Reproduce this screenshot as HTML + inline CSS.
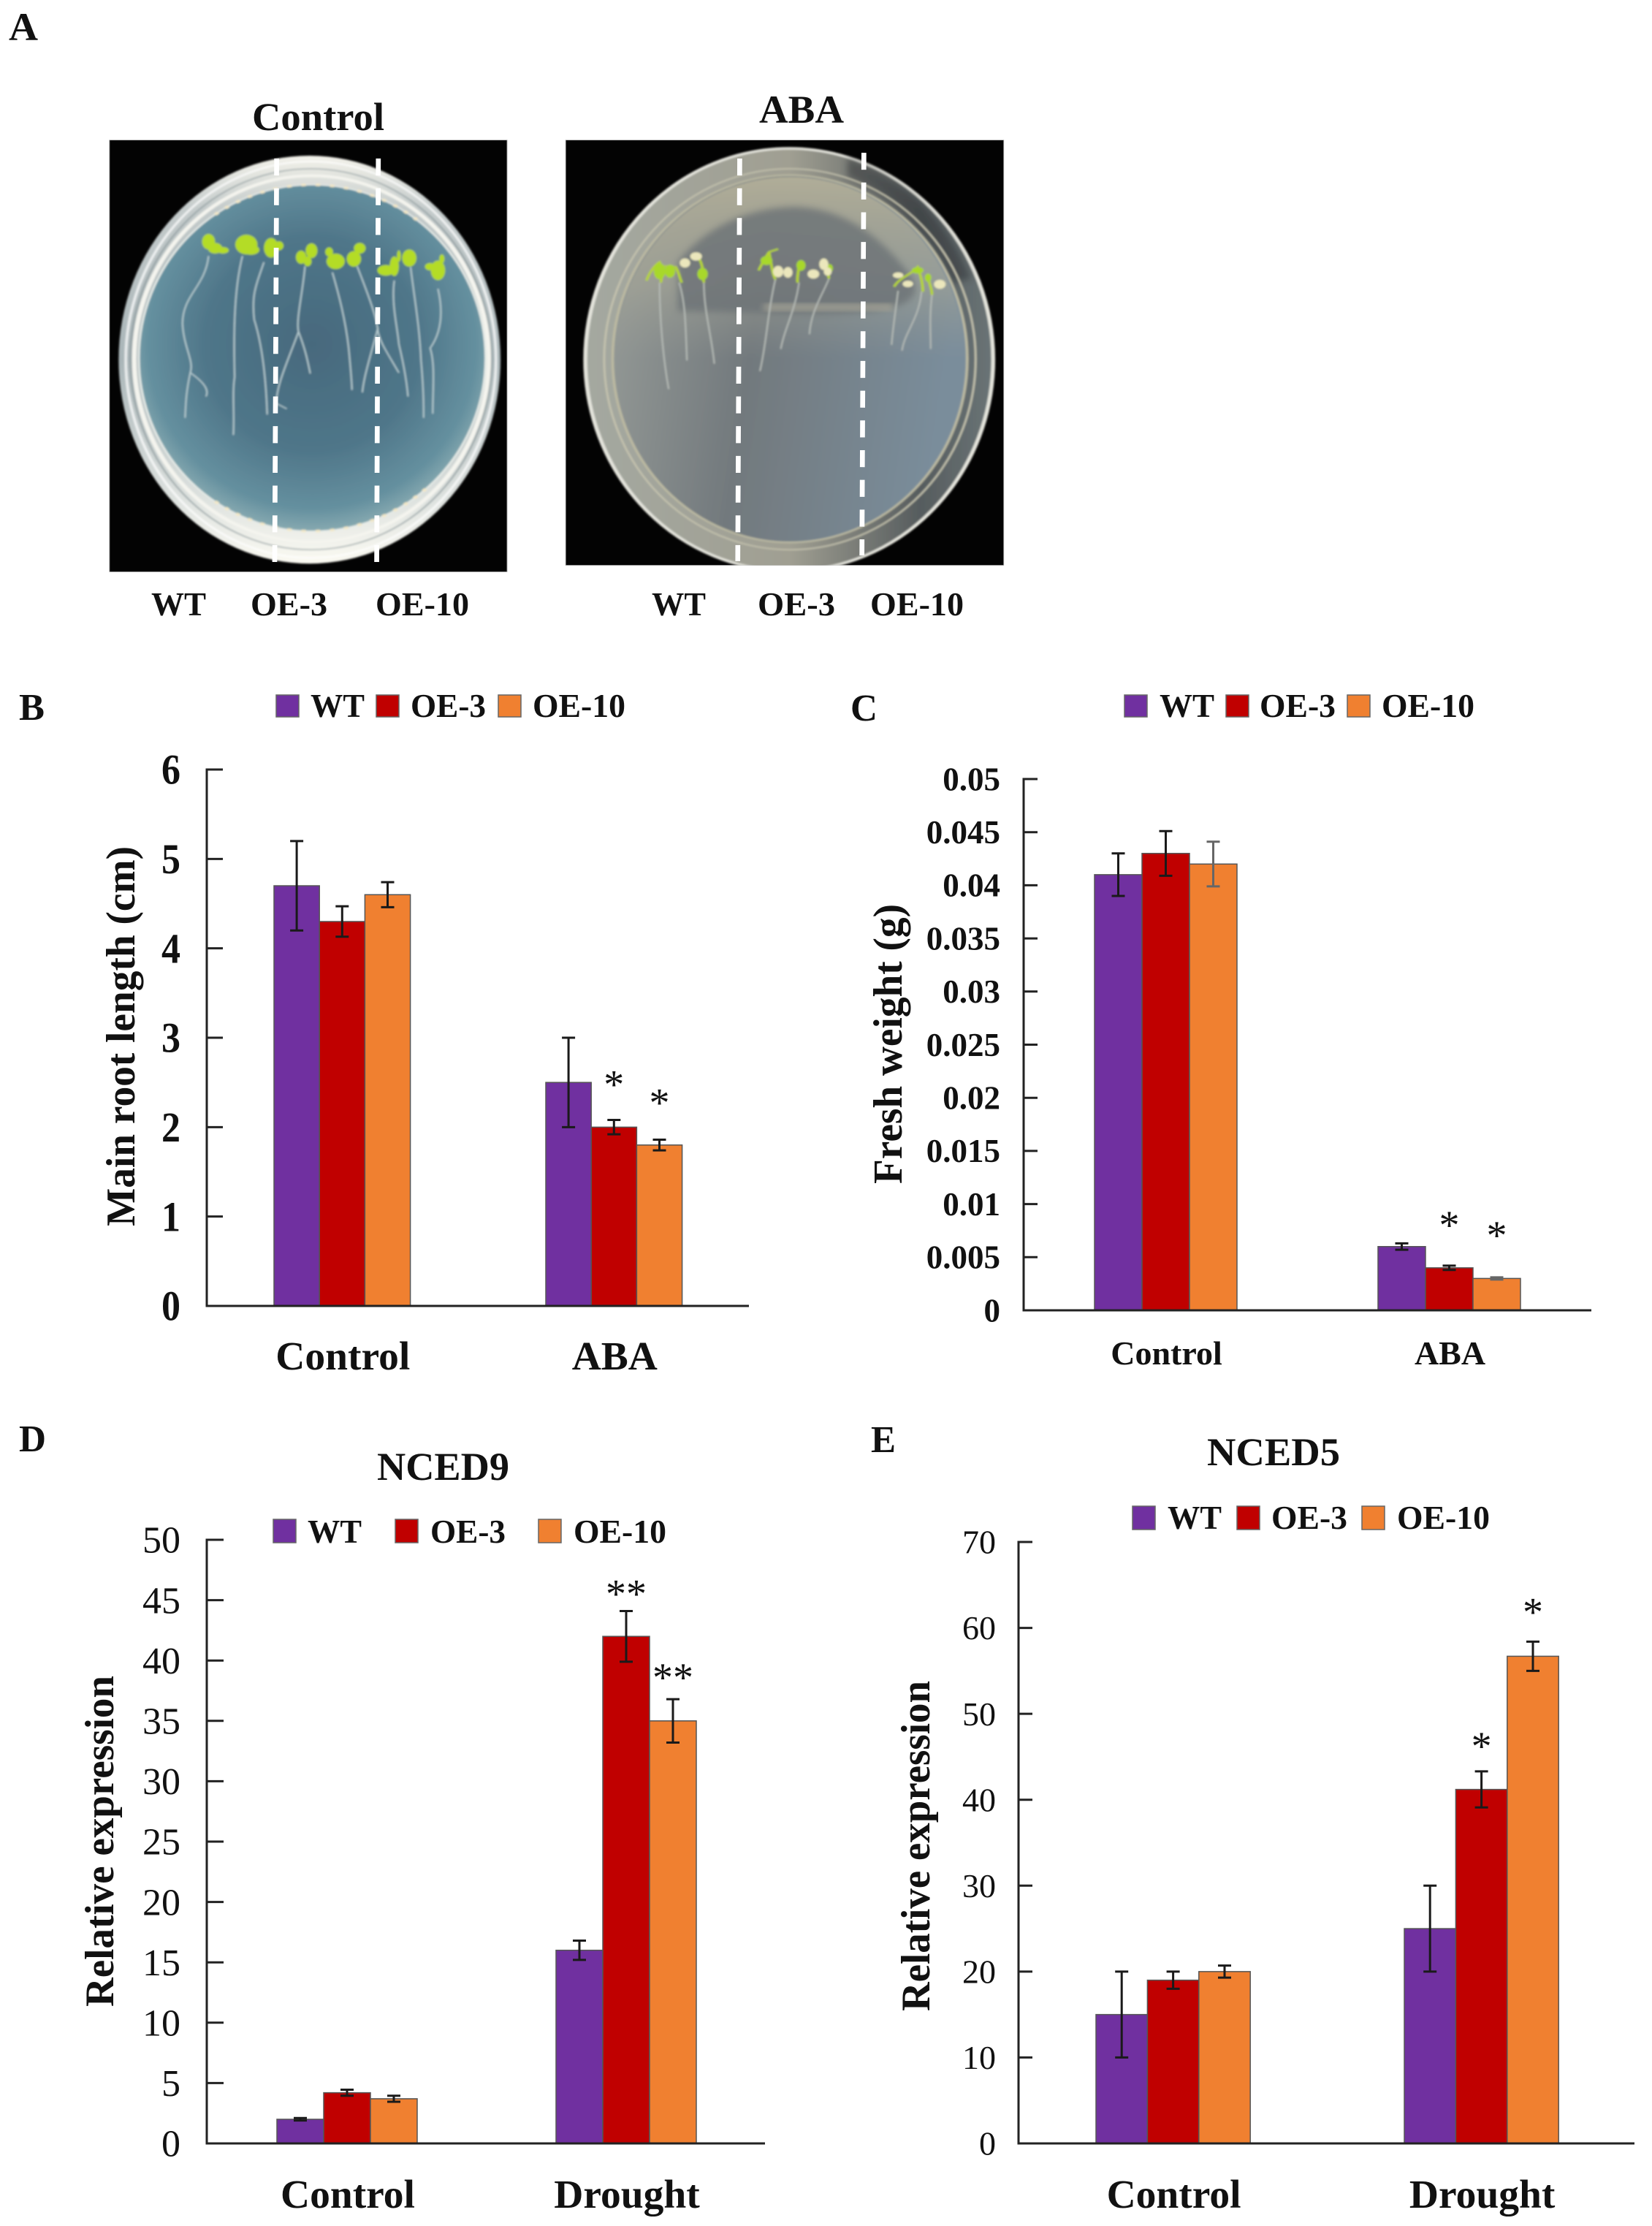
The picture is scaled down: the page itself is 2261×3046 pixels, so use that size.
<!DOCTYPE html>
<html lang="en">
<head>
<meta charset="utf-8">
<title>Root length, fresh weight and NCED expression</title>
<style>
html,body{margin:0;padding:0;background:#fff;}
svg{display:block;}
text{font-family:"Liberation Serif",serif;fill:#111;}
.b{font-weight:bold;}
</style>
</head>
<body>
<svg id="figure" xmlns="http://www.w3.org/2000/svg" width="2261" height="3046" viewBox="0 0 2261 3046">
<defs>
<radialGradient id="agar1" cx="50%" cy="46%" r="56%"><stop offset="0" stop-color="#47697d"/><stop offset=".55" stop-color="#4f7689"/><stop offset=".85" stop-color="#65909f"/><stop offset="1" stop-color="#92b2b6"/></radialGradient>
<linearGradient id="rim1" x1="0" y1="0" x2="0" y2="1"><stop offset="0" stop-color="#f3f2ea"/><stop offset=".13" stop-color="#c4cbcb"/><stop offset=".5" stop-color="#a9b5b8"/><stop offset=".85" stop-color="#dfe3e0"/><stop offset="1" stop-color="#fbfaf2"/></linearGradient>
<linearGradient id="agar2" x1="0" y1="0" x2="1" y2=".15"><stop offset="0" stop-color="#979c98"/><stop offset=".45" stop-color="#72797d"/><stop offset="1" stop-color="#7a8d9b"/></linearGradient>
<linearGradient id="agar2top" x1="0" y1="0" x2="0" y2="1"><stop offset="0" stop-color="#b0ad98"/><stop offset=".3" stop-color="#a8a898" stop-opacity=".55"/><stop offset=".5" stop-color="#9a9c94" stop-opacity="0"/></linearGradient>
<linearGradient id="rim2" x1="0" y1="0" x2="1" y2="0"><stop offset="0" stop-color="#a4a8a0"/><stop offset=".5" stop-color="#a09f92"/><stop offset=".82" stop-color="#565c5e"/><stop offset="1" stop-color="#6a7476"/></linearGradient>
<clipPath id="clip-photo2"><rect x="868" y="342" width="672" height="1038"/></clipPath>
<clipPath id="clip-photo1"><rect x="168" y="342" width="610" height="1054"/></clipPath>
<filter id="soft" x="-5%" y="-5%" width="110%" height="110%"><feGaussianBlur stdDeviation="1.6 2.6"/></filter>
<filter id="softer" x="-20%" y="-20%" width="140%" height="140%"><feGaussianBlur stdDeviation="5 8"/></filter>
</defs>
<rect width="2261" height="3046" fill="#fff"/>

<!-- Panel A: coordinates below are in a stretched photo space -->
<text class="b" x="12" y="55" font-size="54" textLength="40" lengthAdjust="spacingAndGlyphs">A</text>
<text class="b" x="345" y="178" font-size="54" textLength="181" lengthAdjust="spacingAndGlyphs">Control</text>
<text class="b" x="1039" y="168" font-size="54" textLength="116" lengthAdjust="spacingAndGlyphs">ABA</text>

<g transform="scale(.892,.5605)">
  <g>
    <rect x="168" y="342" width="610" height="1054" fill="#030303" stroke="#999" stroke-width="1"/>
    <g clip-path="url(#clip-photo1)"><g filter="url(#soft)">
      <ellipse cx="475" cy="878" rx="293" ry="498" fill="url(#rim1)"/>
      <ellipse cx="477" cy="878" rx="284" ry="484" fill="none" stroke="#fff" stroke-width="4" opacity=".75"/>
      <ellipse cx="477" cy="877" rx="277" ry="465" fill="none" stroke="#8d9a9c" stroke-width="3" opacity=".7"/>
      <ellipse cx="478" cy="876" rx="272" ry="447" fill="none" stroke="#f4f4ee" stroke-width="7"/>
      <ellipse cx="479" cy="874" rx="266" ry="423" fill="url(#agar1)" stroke="#e7ece8" stroke-width="3"/>
      <path d="M330 524A266 423 0 0 1 640 537" fill="none" stroke="#f3e8c8" stroke-width="6" stroke-dasharray="7 15"/>
      <path d="M330 1224A266 423 0 0 0 660 1184" fill="none" stroke="#f3e8c8" stroke-width="6" stroke-dasharray="7 15"/>
      <g fill="none" stroke="#b8ccd0" stroke-width="2.2">
        <path d="M320 625C315 700 280 720 280 790C282 850 298 880 292 910C310 930 322 950 316 968M292 910C285 960 285 990 284 1020"/>
        <path d="M372 625C360 700 358 800 360 920C356 960 360 1010 358 1062"/>
        <path d="M405 640C392 700 386 720 390 780C402 840 408 920 410 1012"/>
        <path d="M468 650C464 720 454 780 458 810C468 850 472 880 476 912M458 810C442 880 424 940 424 985L440 998"/>
        <path d="M510 665C520 720 530 780 535 850C538 900 540 940 540 952"/>
        <path d="M548 650C560 700 578 770 580 810C585 840 590 850 612 910M580 800C570 860 558 920 556 958"/>
        <path d="M605 685C600 740 610 800 612 840C618 880 624 930 626 968"/>
        <path d="M630 652C636 730 644 800 646 880C650 950 650 990 650 1020"/>
        <path d="M672 705C680 760 678 810 660 850C668 890 664 950 664 1010"/>
      </g>
      <g fill="#b4dc26">
        <ellipse cx="320" cy="590" rx="10" ry="19"/><ellipse cx="330" cy="606" rx="11" ry="13"/><ellipse cx="342" cy="611" rx="9" ry="8"/>
        <ellipse cx="378" cy="597" rx="17" ry="24"/><ellipse cx="385" cy="610" rx="13" ry="12"/>
        <ellipse cx="416" cy="605" rx="11" ry="24"/><ellipse cx="428" cy="600" rx="7" ry="11"/>
        <ellipse cx="462" cy="628" rx="8" ry="16"/><ellipse cx="478" cy="612" rx="9" ry="18"/><ellipse cx="472" cy="638" rx="6" ry="12"/>
        <ellipse cx="515" cy="638" rx="14" ry="19"/><ellipse cx="505" cy="615" rx="6" ry="11"/>
        <ellipse cx="543" cy="632" rx="11" ry="19"/><ellipse cx="552" cy="606" rx="9" ry="13"/>
        <ellipse cx="592" cy="660" rx="13" ry="13"/><ellipse cx="605" cy="650" rx="7" ry="24"/><ellipse cx="612" cy="625" rx="3" ry="14"/>
        <ellipse cx="628" cy="630" rx="11" ry="21"/>
        <ellipse cx="672" cy="660" rx="11" ry="24"/><ellipse cx="660" cy="651" rx="8" ry="9"/><ellipse cx="678" cy="632" rx="4" ry="11"/>
      </g>
    </g></g>
    <line x1="424.5" y1="387" x2="421.5" y2="1372" stroke="#fff" stroke-width="7.5" stroke-dasharray="41.4 31.2"/>
    <line x1="580.5" y1="387" x2="578" y2="1372" stroke="#fff" stroke-width="7.5" stroke-dasharray="41.4 31.2"/>
  </g>
  <g>
    <rect x="868" y="342" width="672" height="1038" fill="#030303" stroke="#999" stroke-width="1"/>
    <g clip-path="url(#clip-photo2)"><g filter="url(#soft)">
      <ellipse cx="1211" cy="878" rx="313" ry="516" fill="url(#rim2)" stroke="#e4e4dc" stroke-width="6"/>
      <path d="M1300 385A313 516 0 0 1 1490 680L1462 690A285 470 0 0 0 1300 432Z" fill="#2e3234" opacity=".5" filter="url(#softer)"/>
      <ellipse cx="1212" cy="877" rx="285" ry="465" fill="none" stroke="#c4c2ae" stroke-width="3"/>
      <ellipse cx="1212" cy="876" rx="272" ry="448" fill="url(#agar2)" stroke="#bbb9a2" stroke-width="4"/>
      <ellipse cx="1212" cy="876" rx="268" ry="444" fill="url(#agar2top)"/>
      <path d="M1040 640C1080 560 1140 510 1215 505C1290 505 1350 570 1400 680C1440 800 1200 760 1040 760Z" fill="#6c7276" opacity=".8" filter="url(#softer)"/>
      <rect x="1172" y="742" width="198" height="16" fill="#aca99a" opacity=".85" filter="url(#softer)"/>
      <g fill="none" stroke="#b8bdb8" stroke-width="2.2">
        <path d="M1012 690C1012 780 1018 880 1026 950"/>
        <path d="M1042 690C1052 740 1052 800 1054 880"/>
        <path d="M1080 690C1080 760 1092 820 1096 888"/>
        <path d="M1190 680C1178 760 1176 840 1166 906"/>
        <path d="M1226 690C1220 760 1204 800 1198 852"/>
        <path d="M1272 680C1262 720 1244 760 1242 816"/>
        <path d="M1378 710C1374 760 1370 800 1368 842"/>
        <path d="M1414 712C1410 780 1388 810 1384 856"/>
        <path d="M1430 720C1426 770 1428 810 1428 852"/>
      </g>
      <g fill="none" stroke="#b6d52e" stroke-width="4">
        <path d="M992 685C996 665 1006 645 1012 640C1015 660 1016 675 1014 690M1012 650H1034M1036 650C1042 665 1042 675 1046 690"/>
        <path d="M1072 630C1080 650 1078 670 1080 690"/>
        <path d="M1164 660C1170 640 1176 625 1180 615C1184 650 1186 675 1190 682M1180 615L1194 608"/>
        <path d="M1226 640C1226 660 1222 680 1224 690"/>
        <path d="M1264 635C1272 655 1270 670 1272 680"/>
        <path d="M1372 700C1378 680 1400 668 1408 652C1412 670 1416 690 1416 712M1424 680C1428 700 1430 710 1430 720"/>
      </g>
      <g fill="#a8d82a">
        <ellipse cx="1012" cy="662" rx="9" ry="20"/><ellipse cx="1028" cy="662" rx="8" ry="16"/>
        <ellipse cx="1078" cy="669" rx="8" ry="15"/><ellipse cx="1176" cy="636" rx="9" ry="11"/>
        <ellipse cx="1229" cy="648" rx="7" ry="13"/><ellipse cx="1273" cy="655" rx="5" ry="10"/>
        <ellipse cx="1408" cy="660" rx="9" ry="8"/><ellipse cx="1424" cy="678" rx="5" ry="10"/>
      </g>
      <g fill="#ebe7bc">
        <ellipse cx="1051" cy="642" rx="8" ry="11"/><ellipse cx="1068" cy="626" rx="9" ry="10"/>
        <ellipse cx="1194" cy="663" rx="8" ry="14"/><ellipse cx="1209" cy="665" rx="7" ry="13"/>
        <ellipse cx="1248" cy="669" rx="9" ry="11"/><ellipse cx="1264" cy="645" rx="7" ry="14"/><ellipse cx="1270" cy="663" rx="6" ry="10"/>
        <ellipse cx="1378" cy="672" rx="8" ry="7"/><ellipse cx="1393" cy="693" rx="8" ry="8"/><ellipse cx="1442" cy="694" rx="9" ry="11"/>
      </g>
    </g></g>
    <line x1="1135" y1="387" x2="1132" y2="1370" stroke="#fff" stroke-width="7.5" stroke-dasharray="41.4 31.2"/>
    <line x1="1325.5" y1="373" x2="1322.5" y2="1356" stroke="#fff" stroke-width="7.5" stroke-dasharray="41.4 31.2"/>
  </g>
</g>

<text class="b" x="207" y="842" font-size="45" textLength="75" lengthAdjust="spacingAndGlyphs">WT</text>
<text class="b" x="343" y="842" font-size="45" textLength="105" lengthAdjust="spacingAndGlyphs">OE-3</text>
<text class="b" x="514" y="842" font-size="45" textLength="128" lengthAdjust="spacingAndGlyphs">OE-10</text>
<text class="b" x="892" y="842" font-size="45" textLength="74" lengthAdjust="spacingAndGlyphs">WT</text>
<text class="b" x="1037" y="842" font-size="45" textLength="106" lengthAdjust="spacingAndGlyphs">OE-3</text>
<text class="b" x="1191" y="842" font-size="45" textLength="128" lengthAdjust="spacingAndGlyphs">OE-10</text>

<!-- Panel labels, titles -->
<text class="b" x="26" y="985" font-size="52" textLength="35" lengthAdjust="spacingAndGlyphs">B</text>
<text class="b" x="1164" y="986" font-size="52" textLength="37" lengthAdjust="spacingAndGlyphs">C</text>
<text class="b" x="26" y="1986" font-size="52" textLength="37" lengthAdjust="spacingAndGlyphs">D</text>
<text class="b" x="1192" y="1987" font-size="52" textLength="34" lengthAdjust="spacingAndGlyphs">E</text>
<text class="b" x="516" y="2025" font-size="54" textLength="181" lengthAdjust="spacingAndGlyphs">NCED9</text>
<text class="b" x="1652" y="2005" font-size="54" textLength="182" lengthAdjust="spacingAndGlyphs">NCED5</text>

<!-- Legends -->
<g>
  <rect x="378" y="951" width="31" height="30" fill="#7030a0" stroke="#666" stroke-width="1.5"/>
  <text class="b" x="425" y="981" font-size="45" textLength="74" lengthAdjust="spacingAndGlyphs">WT</text>
  <rect x="515" y="951" width="31" height="30" fill="#c00000" stroke="#666" stroke-width="1.5"/>
  <text class="b" x="562" y="981" font-size="45" textLength="103" lengthAdjust="spacingAndGlyphs">OE-3</text>
  <rect x="682" y="951" width="31" height="30" fill="#f08030" stroke="#666" stroke-width="1.5"/>
  <text class="b" x="729" y="981" font-size="45" textLength="127" lengthAdjust="spacingAndGlyphs">OE-10</text>
</g>
<g>
  <rect x="1539" y="951" width="31" height="30" fill="#7030a0" stroke="#666" stroke-width="1.5"/>
  <text class="b" x="1587" y="981" font-size="45" textLength="75" lengthAdjust="spacingAndGlyphs">WT</text>
  <rect x="1678" y="951" width="31" height="30" fill="#c00000" stroke="#666" stroke-width="1.5"/>
  <text class="b" x="1724" y="981" font-size="45" textLength="104" lengthAdjust="spacingAndGlyphs">OE-3</text>
  <rect x="1844" y="951" width="31" height="30" fill="#f08030" stroke="#666" stroke-width="1.5"/>
  <text class="b" x="1891" y="981" font-size="45" textLength="127" lengthAdjust="spacingAndGlyphs">OE-10</text>
</g>
<g>
  <rect x="374" y="2079" width="31" height="32" fill="#7030a0" stroke="#666" stroke-width="1.5"/>
  <text class="b" x="421" y="2111" font-size="45" textLength="74" lengthAdjust="spacingAndGlyphs">WT</text>
  <rect x="541" y="2079" width="31" height="32" fill="#c00000" stroke="#666" stroke-width="1.5"/>
  <text class="b" x="589" y="2111" font-size="45" textLength="103" lengthAdjust="spacingAndGlyphs">OE-3</text>
  <rect x="737" y="2079" width="31" height="32" fill="#f08030" stroke="#666" stroke-width="1.5"/>
  <text class="b" x="785" y="2111" font-size="45" textLength="127" lengthAdjust="spacingAndGlyphs">OE-10</text>
</g>
<g>
  <rect x="1550" y="2061" width="31" height="32" fill="#7030a0" stroke="#666" stroke-width="1.5"/>
  <text class="b" x="1598" y="2092" font-size="45" textLength="74" lengthAdjust="spacingAndGlyphs">WT</text>
  <rect x="1693" y="2061" width="31" height="32" fill="#c00000" stroke="#666" stroke-width="1.5"/>
  <text class="b" x="1740" y="2092" font-size="45" textLength="104" lengthAdjust="spacingAndGlyphs">OE-3</text>
  <rect x="1864" y="2061" width="31" height="32" fill="#f08030" stroke="#666" stroke-width="1.5"/>
  <text class="b" x="1912" y="2092" font-size="45" textLength="127" lengthAdjust="spacingAndGlyphs">OE-10</text>
</g>

<!-- Y-axis titles -->
<text class="b" transform="translate(184,1678) rotate(-90)" font-size="56" textLength="520" lengthAdjust="spacingAndGlyphs">Main root length (cm)</text>
<text class="b" transform="translate(1234,1620) rotate(-90)" font-size="56" textLength="383" lengthAdjust="spacingAndGlyphs">Fresh weight (g)</text>
<text class="b" transform="translate(155,2746) rotate(-90)" font-size="56" textLength="453" lengthAdjust="spacingAndGlyphs">Relative expression</text>
<text class="b" transform="translate(1272,2752) rotate(-90)" font-size="56" textLength="452" lengthAdjust="spacingAndGlyphs">Relative expression</text>

<g id="charts"></g>
</svg>

<script>
// Chart B: main root length
const bCategories = ['Control', 'ABA'];
const bWT = [4.7, 2.5];
const bOE3 = [4.3, 2.0];
const bOE10 = [4.6, 1.8];
const bErrWT = [0.5, 0.5];
const bErrOE3 = [0.17, 0.08];
const bErrOE10 = [0.14, 0.06];
const bTickLabels = ['0', '1', '2', '3', '4', '5', '6'];
const bStars = [['ABA', 'OE-3', '*'], ['ABA', 'OE-10', '*']];

// Chart C: fresh weight
const cCategories = ['Control', 'ABA'];
const cWT = [0.041, 0.006];
const cOE3 = [0.043, 0.004];
const cOE10 = [0.042, 0.003];
const cErrWT = [0.002, 0.0003];
const cErrOE3 = [0.0021, 0.0002];
const cErrOE10 = [0.0021, 0.0001];
const cTickLabels = ['0', '0.005', '0.01', '0.015', '0.02', '0.025', '0.03', '0.035', '0.04', '0.045', '0.05'];
const cStars = [['ABA', 'OE-3', '*'], ['ABA', 'OE-10', '*']];

// Chart D: NCED9
const dCategories = ['Control', 'Drought'];
const dWT = [2.0, 16];
const dOE3 = [4.2, 42];
const dOE10 = [3.7, 35];
const dErrWT = [0.1, 0.8];
const dErrOE3 = [0.25, 2.1];
const dErrOE10 = [0.25, 1.8];
const dTickLabels = ['0', '5', '10', '15', '20', '25', '30', '35', '40', '45', '50'];
const dStars = [['Drought', 'OE-3', '**'], ['Drought', 'OE-10', '**']];

// Chart E: NCED5
const eCategories = ['Control', 'Drought'];
const eWT = [15, 25];
const eOE3 = [19, 41.2];
const eOE10 = [20, 56.7];
const eErrWT = [5, 5];
const eErrOE3 = [1, 2.1];
const eErrOE10 = [0.7, 1.7];
const eTickLabels = ['0', '10', '20', '30', '40', '50', '60', '70'];
const eStars = [['Drought', 'OE-3', '*'], ['Drought', 'OE-10', '*']];

const seriesNames = ['WT', 'OE-3', 'OE-10'];
const seriesColors = ['#7030a0', '#c00000', '#f08030'];
const SVGNS = 'http://www.w3.org/2000/svg';
const chartsRoot = document.getElementById('charts');

function mk(parent, tag, attrs, content) {
  const el = document.createElementNS(SVGNS, tag);
  for (const k in attrs) { el.setAttribute(k, attrs[k]); }
  if (content !== undefined) { el.textContent = content; }
  parent.appendChild(el);
  return el;
}

function drawChart(id, categories, series, errors, tickLabels, stars, lay) {
  const g = mk(chartsRoot, 'g', {});
  
  

  const yMax = Math.max.apply(null, tickLabels.map(Number));
  const yScale = function (v) { return lay.y0 - (v / yMax) * (lay.y0 - lay.yTop); };
  const groupLeft = function (i) { return lay.firstX + i * lay.groupStep; };
  const barLeft = function (i, s) { return groupLeft(i) + s * lay.barW; };

  // bars
  categories.forEach(function (cat, i) {
    series.forEach(function (vals, s) {
      const top = yScale(vals[i]);
      const bar = mk(g, 'rect', { x: barLeft(i, s), y: top, width: lay.barW, height: lay.y0 - top, fill: seriesColors[s], stroke: '#555', 'stroke-width': 1.5 });
      
      
    });
  });

  // error bars
  categories.forEach(function (cat, i) {
    series.forEach(function (vals, s) {
      const cx = barLeft(i, s) + lay.barW / 2;
      const hi = yScale(vals[i] + errors[s][i]);
      const lo = yScale(vals[i] - errors[s][i]);
      const err = mk(g, 'path', { d: 'M' + (cx - 9) + ' ' + hi + 'H' + (cx + 9) + 'M' + cx + ' ' + hi + 'V' + lo + 'M' + (cx - 9) + ' ' + lo + 'H' + (cx + 9), fill: 'none', stroke: lay.errColors[s], 'stroke-width': 3 });
      
      
    });
  });

  // axes
  const yAxis = mk(g, 'line', { x1: lay.axisX, y1: lay.yTop - 1.5, x2: lay.axisX, y2: lay.y0 + 1.5, stroke: '#222', 'stroke-width': 3 });
  
  
  const xAxis = mk(g, 'line', { x1: lay.axisX, y1: lay.y0, x2: lay.axisEnd, y2: lay.y0, stroke: '#222', 'stroke-width': 3 });
  
  

  // y ticks and labels
  tickLabels.forEach(function (label) {
    const y = yScale(Number(label));
    const tick = mk(g, 'line', { x1: lay.axisX, y1: y, x2: lay.axisX + lay.tickLen, y2: y, stroke: '#222', 'stroke-width': 3 });
    
    
    const attrs = { x: lay.labelRight, y: y + lay.tickSize * 0.34, 'text-anchor': 'end', 'font-size': lay.tickSize, 'font-weight': lay.tickWeight };
    if (lay.digitWidth) {
      attrs.textLength = label.length * lay.digitWidth;
      attrs.lengthAdjust = 'spacingAndGlyphs';
    }
    const t = mk(g, 'text', attrs, label);
    
    
  });

  // category labels
  categories.forEach(function (cat, i) {
    const cx = barLeft(i, 1) + lay.barW / 2;
    const t = mk(g, 'text', { x: cx + 1, y: lay.catBaseline, 'text-anchor': 'middle', 'font-size': lay.catSize, 'font-weight': 'bold' }, cat);
    
    
  });

  // significance marks, placed above the error bar of their bar
  stars.forEach(function (st) {
    const i = categories.indexOf(st[0]);
    const s = seriesNames.indexOf(st[1]);
    const cx = barLeft(i, s) + lay.barW / 2;
    const top = yScale(series[s][i] + errors[s][i]);
    const t = mk(g, 'text', { x: cx, y: top - lay.starGaps[s] + 26, 'text-anchor': 'middle', 'font-size': 56 }, st[2]);
    
    
  });
}

const darkErr = ['#1a1a1a', '#1a1a1a', '#1a1a1a'];
drawChart('b', bCategories, [bWT, bOE3, bOE10], [bErrWT, bErrOE3, bErrOE10], bTickLabels, bStars,
  { axisX: 283, axisEnd: 1025, y0: 1787, yTop: 1053, tickLen: 22, firstX: 375, groupStep: 372, barW: 62.2, labelRight: 247, tickSize: 58, tickWeight: 'bold', digitWidth: 26, catSize: 55.5, catBaseline: 1874, starGaps: [56, 56, 58], errColors: darkErr });
drawChart('c', cCategories, [cWT, cOE3, cOE10], [cErrWT, cErrOE3, cErrOE10], cTickLabels, cStars,
  { axisX: 1401, axisEnd: 2178, y0: 1793, yTop: 1066, tickLen: 19, firstX: 1498, groupStep: 388, barW: 65, labelRight: 1369, tickSize: 45, tickWeight: 'bold', catSize: 46, catBaseline: 1867, starGaps: [63, 63, 65], errColors: ['#1a1a1a', '#1a1a1a', '#666'] });
drawChart('d', dCategories, [dWT, dOE3, dOE10], [dErrWT, dErrOE3, dErrOE10], dTickLabels, dStars,
  { axisX: 283, axisEnd: 1047, y0: 2933, yTop: 2107, tickLen: 23, firstX: 379, groupStep: 382, barW: 64, labelRight: 247, tickSize: 52, tickWeight: 'normal', catSize: 55.5, catBaseline: 3021, starGaps: [31, 31, 37], errColors: darkErr });
drawChart('e', eCategories, [eWT, eOE3, eOE10], [eErrWT, eErrOE3, eErrOE10], eTickLabels, eStars,
  { axisX: 1394, axisEnd: 2237, y0: 2933, yTop: 2110, tickLen: 19, firstX: 1500, groupStep: 422, barW: 70.4, labelRight: 1363, tickSize: 46, tickWeight: 'normal', catSize: 55.5, catBaseline: 3021, starGaps: [42, 42, 48], errColors: darkErr });
</script>
</body>
</html>
